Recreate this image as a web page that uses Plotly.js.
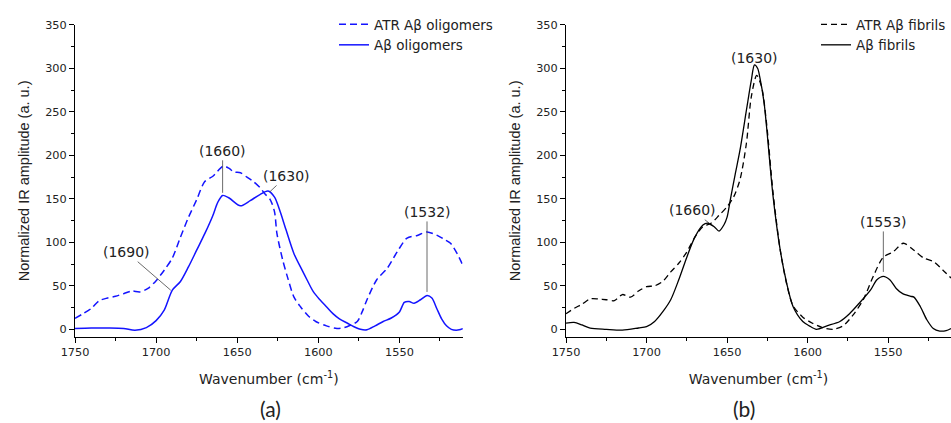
<!DOCTYPE html>
<html>
<head>
<meta charset="utf-8">
<script src="https://cdn.plot.ly/plotly-3.0.1.min.js"></script>
<style>html,body{margin:0;padding:0;background:#fff;}#chart{width:951px;height:423px;}</style>
</head>
<body>
<div id="chart"></div>
<script>
// ---- Data ----
const oligoSolidX = [1750,1740,1730,1720,1713,1706,1700,1695,1690,1685,1680,1675,1670,1665,1662,1659,1655,1648,1642,1636,1631,1627,1624,1620,1615,1610,1607,1603,1599,1595,1591,1587,1582,1578,1574,1570,1565,1560,1555,1550,1547,1544,1541,1537,1533,1530,1527,1524,1521,1518,1515,1512,1510];
const oligoSolidY = [1,1.5,1.5,1,-1,2,10,22,45,55,72,91,110,131,146,154,151,142,148,155,159,152,138,115,87,68,57,43,34,26,18,12,7,3,0,-0.5,4,9,13,20,31,32,30,34,39,36,24,12,4,0,-1,0,1];
const oligoAtrX = [1750,1745,1740,1735,1730,1725,1720,1715,1710,1705,1700,1695,1690,1685,1680,1675,1670,1665,1662,1658.5,1655,1652,1648,1644,1640,1636,1633,1629.6,1627,1625.5,1622,1619,1615,1611,1606,1601.6,1595,1588.5,1584,1580,1576,1573,1570,1564,1557.6,1551.4,1545.3,1539,1533,1526.7,1522,1518.5,1514.4,1511];
const oligoAtrY = [12.6,18,24,33,36,38,41,44,43,47,56,68,82,106,129,149,170,176,182,188,185,181,180,175,170,163,156,149,135,110,80,60,37,26,15,9,4,1,2,5,9,20,34,57,70,89,105,108,112,108,103,99,87,74];
const fibSolidX = [1750,1745,1740,1735,1725,1715,1705,1700,1695,1690,1685,1680,1675,1670,1665,1662,1658,1655,1652,1650,1648,1645,1642,1638,1635,1633,1631,1629.7,1627,1625.5,1621.4,1617,1613,1609,1603,1599,1594.5,1588,1580,1574,1568,1561,1557,1553,1549,1545,1541,1536,1534,1530,1526,1522,1518,1514,1511];
const fibSolidY = [7,8,5,1.5,0,-1,1.5,3,9,20,34,57,83,106,120,122,118,113,120,129,149,178,206,252,286,304,300,290,260,233,152,91,53,26,9,4,0,4,9,18,30,45,57,61,57,47,41,38,37,26,11,1,-2,-1.5,1];
const fibAtrX = [1750,1745,1740,1735,1730,1725,1720,1715,1710,1705,1700,1695,1690,1685,1680,1675,1670,1665,1660,1655,1650,1646,1642,1638,1635,1631.6,1628.6,1625.5,1621.4,1617,1613,1609,1603,1597,1590,1584,1578,1572,1565.5,1559,1553,1547,1540.6,1534,1528,1522,1516,1511];
const fibAtrY = [18,24,29,35,35,34,33,40,37,44,49,50,55,66,76,89,106,118,122,131,141,152,172,214,267,292,279,237,156,91,52,27,14,7,1.5,0,4,16,34,62,83,89,99,91,82,78,68,59];

const seriesNames = ['ATR A\u03b2 oligomers','A\u03b2 oligomers','ATR A\u03b2 fibrils','A\u03b2 fibrils'];

const leftLabelText = ['(1690)','(1660)','(1630)','(1532)'];
const leftLabelX = [1691,1659,1630,1533];
const leftLabelY = [45,157,158,43];
const rightLabelText = ['(1630)','(1660)','(1553)'];
const rightLabelX = [1632.8,1661,1553];
const rightLabelY = [312,122,66];

const yTitle = 'Normalized IR amplitude (a. u.)';
const xTitle = 'Wavenumber (cm<sup>-1</sup>)';
const panelTags = ['(a)','(b)'];

// ---- Styling / layout ----
const blue = 'rgb(20,20,255)';
const black = '#000';
const wide = 'DejaVu Sans, sans-serif';
const narrow = 'Liberation Sans, Arial, sans-serif';
const tickFont = {family:wide, size:11.3, color:'#222'};
const xTitleFont = {family:wide, size:14, color:'#222'};
const yTitleFont = {family:narrow, size:14.5, color:'#222'};

const traces = [
  {x:oligoAtrX, y:oligoAtrY, name:seriesNames[0], mode:'lines', line:{color:blue,width:1.5,dash:'7px,4px',shape:'spline',smoothing:0.8}, xaxis:'x', yaxis:'y', legend:'legend'},
  {x:oligoSolidX, y:oligoSolidY, name:seriesNames[1], mode:'lines', line:{color:blue,width:1.5,shape:'spline',smoothing:0.8}, xaxis:'x', yaxis:'y', legend:'legend'},
  {x:fibAtrX, y:fibAtrY, name:seriesNames[2], mode:'lines', line:{color:black,width:1.3,dash:'6px,4px',shape:'spline',smoothing:0.8}, xaxis:'x2', yaxis:'y2', legend:'legend2'},
  {x:fibSolidX, y:fibSolidY, name:seriesNames[3], mode:'lines', line:{color:black,width:1.3,shape:'spline',smoothing:0.8}, xaxis:'x2', yaxis:'y2', legend:'legend2'}
];

function xAxis(domain, anchor){
  return {domain:domain, anchor:anchor, range:[1750,1511], autorange:false, showgrid:false, zeroline:false,
    showline:true, linecolor:'#000', linewidth:1, ticks:'outside', ticklen:5, tickwidth:1, tickcolor:'#000',
    dtick:50, tick0:1500, tickfont:tickFont,
    minor:{dtick:25, tick0:1500, ticks:'outside', ticklen:3, tickwidth:1, tickcolor:'#000', showgrid:false},
    title:{text:xTitle, font:xTitleFont, standoff:15}};
}
function yAxis(anchor){
  return {domain:[0.204,0.9409], anchor:anchor, range:[-8.5,350], autorange:false, showgrid:false, zeroline:false,
    showline:true, linecolor:'#000', linewidth:1, ticks:'outside', ticklen:5, tickwidth:1, tickcolor:'#000',
    dtick:50, tick0:0, tickfont:tickFont,
    minor:{dtick:25, tick0:0, ticks:'outside', ticklen:3, tickwidth:1, tickcolor:'#000', showgrid:false},
    title:{text:yTitle, font:yTitleFont, standoff:12}};
}

const annFont = {family:wide, size:14, color:'#222'};
const annotations = [];
const leftOffsets = [[-44,-38],[0,-42],[17,-16],[0,-80]];
leftLabelText.forEach((t,i)=>annotations.push({xref:'x', yref:'y', x:leftLabelX[i], y:leftLabelY[i], text:t, font:annFont,
  showarrow:true, arrowhead:0, arrowwidth:0.8, arrowcolor:'#444', ax:leftOffsets[i][0], ay:leftOffsets[i][1], standoff:0}));
const rightOffsets = [[0,0],[-17,-13],[0,-50]];
rightLabelText.forEach((t,i)=>annotations.push({xref:'x2', yref:'y2', x:rightLabelX[i], y:rightLabelY[i], text:t, font:annFont,
  showarrow:i!==0, arrowhead:0, arrowwidth:0.8, arrowcolor:'#444', ax:rightOffsets[i][0], ay:rightOffsets[i][1], standoff:0}));
const tagFont = {family:'Lato, Noto Sans, sans-serif', size:21, color:'#222'};
annotations.push({xref:'paper', yref:'paper', x:258/951, y:0, yanchor:'bottom', text:panelTags[0], showarrow:false, font:tagFont});
annotations.push({xref:'paper', yref:'paper', x:757/951, y:0, yanchor:'bottom', text:panelTags[1], showarrow:false, font:tagFont});

const legFont = {family:wide, size:13.5, color:'#222'};
const layout = {
  width:951, height:423, margin:{l:0,r:0,t:0,b:0}, paper_bgcolor:'#fff', plot_bgcolor:'#fff',
  xaxis: xAxis([75/951, 462.7/951], 'y'),
  yaxis: yAxis('x'),
  xaxis2: xAxis([566/951, 1.0], 'y2'),
  yaxis2: yAxis('x2'),
  legend:{x:334/951, y:1-9/423, xanchor:'left', yanchor:'top', bgcolor:'rgba(0,0,0,0)', font:legFont, tracegroupgap:0, itemwidth:30},
  legend2:{x:1, y:1-9/423, xanchor:'right', yanchor:'top', bgcolor:'rgba(0,0,0,0)', font:legFont, tracegroupgap:0, itemwidth:30},
  showlegend:true,
  annotations:annotations
};

Plotly.newPlot('chart', traces, layout, {displayModeBar:false, staticPlot:true});
</script>
</body>
</html>
